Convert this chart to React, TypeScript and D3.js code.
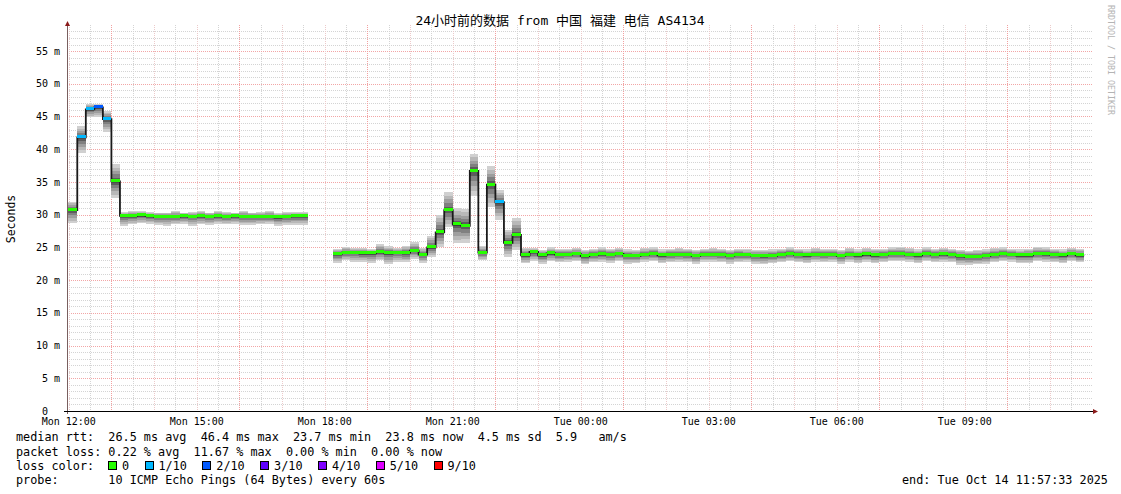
import React from 'react'
import * as d3 from 'd3'

// time window of the graph (local time)
const START = new Date(2025, 9, 13, 11, 57, 33)
const END = new Date(2025, 9, 14, 11, 57, 33)
const FIRST_BIN = new Date(2025, 9, 13, 11, 48, 0)
const BIN_MINUTES = 12

// median rtt per 12 min bin (ms), null = no data
const medians: (number | null)[] = [
  30.7, 30.7, 41.8, 46.1, 46.4, 44.6, 35.1,
  29.8, 29.8, 29.9, 29.8, 29.7, 29.7, 29.7, 29.8, 29.7, 29.8, 29.7,
  29.8, 29.7, 29.8, 29.7, 29.7, 29.7, 29.7, 29.6, 29.7, 29.8, 29.8,
  null, null, null,
  24.0, 24.2, 24.2, 24.1, 24.1, 24.3, 24.1, 24.2, 24.2, 24.5, 23.9,
  25.0, 27.3, 30.7, 28.5, 28.3, 36.7, 24.2, 34.6, 31.9, 25.7, 26.9, 23.8,
  24.3, 23.8, 24.1, 23.9, 23.9, 24.0, 23.65, 23.9, 24.0, 23.9, 24.0,
  23.75, 23.7, 23.9, 24.0, 23.8, 23.9, 23.9, 23.85, 23.7, 23.9, 23.9,
  23.9, 23.75, 23.85, 23.85, 23.7, 23.65, 23.7, 23.85, 24.05, 23.85, 23.8,
  23.9, 23.85, 23.9, 23.7, 23.9, 23.8, 23.95, 23.8, 23.9, 24.0, 24.0,
  23.9, 23.8, 24.0, 23.9, 24.0, 23.9, 23.7, 23.6, 23.6, 23.7, 23.9,
  24.0, 23.9, 23.8, 23.8, 24.0, 24.0, 23.9, 23.8, 24.0, 23.8,
]

// slowest ping per bin (top of the smoke)
const highs: (number | null)[] = [
  32.0, 32.0, 43.5, 46.9, 46.9, 45.8, 37.7,
  30.4, 30.5, 30.6, 30.4, 30.3, 30.3, 30.5, 30.3, 30.4, 30.5, 30.3,
  30.5, 30.4, 30.3, 30.5, 30.3, 30.4, 30.5, 30.3, 30.4, 30.4, 30.4,
  null, null, null,
  24.7, 25.0, 24.9, 24.9, 24.8, 25.5, 25.2, 24.9, 25.2, 25.8, 24.9,
  26.8, 30.0, 33.4, 31.0, 30.9, 39.3, 25.2, 37.4, 33.7, 27.7, 29.5, 24.9,
  24.9, 24.6, 25.0, 24.8, 24.7, 24.9, 24.6, 24.8, 25.0, 24.8, 24.9,
  24.7, 24.6, 24.9, 25.0, 24.7, 24.8, 24.9, 24.8, 24.6, 24.8, 24.9,
  24.8, 24.6, 24.8, 24.7, 24.6, 24.6, 24.7, 24.8, 25.0, 24.8, 24.7,
  24.9, 24.8, 24.8, 24.6, 24.9, 24.7, 24.9, 24.8, 24.8, 25.0, 25.1,
  24.9, 24.7, 25.0, 24.8, 24.9, 24.8, 24.6, 24.5, 24.6, 24.7, 24.9,
  25.0, 24.8, 24.7, 24.8, 25.1, 25.0, 24.8, 24.7, 24.9, 24.8,
]

// fastest ping per bin (bottom of the smoke)
const lows: (number | null)[] = [
  28.7, 28.7, 39.4, 44.9, 44.9, 42.7, 32.5,
  28.2, 28.5, 28.7, 28.6, 28.4, 28.3, 28.5, 28.6, 28.3, 28.5, 28.4,
  28.6, 28.5, 28.6, 28.4, 28.4, 28.5, 28.6, 28.3, 28.4, 28.4, 28.4,
  null, null, null,
  22.6, 23.0, 22.8, 22.8, 22.6, 23.0, 22.5, 22.8, 22.7, 23.3, 22.6,
  23.6, 25.0, 28.1, 25.6, 25.7, 32.8, 23.0, 31.1, 29.2, 23.5, 24.6, 22.6,
  22.9, 22.5, 22.9, 22.7, 22.8, 22.9, 22.4, 22.7, 22.8, 22.6, 22.9,
  22.5, 22.6, 22.8, 22.9, 22.6, 22.7, 22.8, 22.7, 22.5, 22.8, 22.8,
  22.7, 22.5, 22.7, 22.8, 22.5, 22.4, 22.6, 22.7, 22.9, 22.7, 22.6,
  22.8, 22.7, 22.8, 22.5, 22.8, 22.6, 22.8, 22.6, 22.7, 22.9, 22.9,
  22.8, 22.6, 22.9, 22.7, 22.8, 22.7, 22.3, 22.3, 22.4, 22.5, 22.7,
  22.9, 22.8, 22.6, 22.6, 22.9, 22.8, 22.7, 22.6, 22.9, 22.7,
]

// lost pings (out of 10) per bin
const lossCounts: number[] = [
  0, 0, 1, 1, 2, 1, 0,
  0, 0, 0, 0, 0, 0, 0, 0, 0, 0, 0, 0, 0, 0, 0, 0, 0, 0, 0, 0, 0, 0,
  0, 0, 0,
  0, 0, 0, 0, 0, 0, 0, 0, 0, 0, 0,
  0, 0, 0, 0, 0, 0, 0, 0, 1, 0, 0, 0,
  0, 0, 0, 0, 0, 0, 0, 0, 0, 0, 0, 0, 0, 0, 0, 0, 0, 0, 0, 0, 0, 0,
  0, 0, 0, 0, 0, 0, 0, 0, 0, 0, 0, 0, 0, 0, 0, 0, 0, 0, 0, 0, 0, 0,
  0, 0, 0, 0, 0, 0, 0, 0, 0, 0, 0, 0, 0, 0, 0, 0, 0, 0, 0, 0, 0,
]

const lossLabels = ['0', '1/10', '2/10', '3/10', '4/10', '5/10', '9/10']
const lossColors = ['#26ff00', '#00b8ff', '#0059ff', '#5e00ff', '#7e00ff', '#dd00ff', '#ff0000']
const yLabelValues = [0, 5, 10, 15, 20, 25, 30, 35, 40, 45, 50, 55]

const title = '24小时前的数据 from 中国 福建 电信 AS4134'
const statLines = [
  'median rtt:  26.5 ms avg  46.4 ms max  23.7 ms min  23.8 ms now  4.5 ms sd  5.9   am/s',
  'packet loss: 0.22 % avg  11.67 % max  0.00 % min  0.00 % now',
]
const probeLine = 'probe:       10 ICMP Echo Pings (64 Bytes) every 60s'
const endLine = 'end: Tue Oct 14 11:57:33 2025'

const smokeGrays = ['#d0d0d0', '#b8b8b8', '#9e9e9e', '#808080', '#5c5c5c']
const MONO = '"DejaVu Sans Mono", "Noto Sans CJK SC", monospace'

const W = 1121
const H = 494
const left = 67
const right = 1093
const top = 25
const bottom = 411

const App = () => {
  const x = d3.scaleTime().domain([START, END]).range([left, right - 2])
  const y = d3.scaleLinear().domain([0, 58.98]).range([bottom, top])

  const bins = medians.map((m, i) => {
    const t0 = d3.timeMinute.offset(FIRST_BIN, i * BIN_MINUTES)
    const t1 = d3.timeMinute.offset(t0, BIN_MINUTES)
    return {
      x0: Math.max(left, x(t0)),
      x1: x(t1),
      med: m,
      hi: highs[i],
      lo: lows[i],
      loss: lossCounts[i] ?? 0,
    }
  })

  const pts: [number, number | null][] = []
  bins.forEach((b) => {
    pts.push([b.x0, b.med])
    pts.push([b.x1, b.med])
  })
  const medLine = d3
    .line<[number, number | null]>()
    .defined((d) => d[1] !== null)
    .x((d) => d[0])
    .y((d) => y(d[1] as number))

  const halfHours = x.ticks(d3.timeMinute.every(30)!).filter((t) => t.getMinutes() !== 0)
  const hours = x.ticks(d3.timeHour.every(1)!)
  const labelTicks = x.ticks(d3.timeHour.every(3)!)
  const fmt = d3.timeFormat('%a %H:%M')

  const minorY = d3.range(1, 59).filter((v) => v % 5 !== 0)
  const majorY = d3.range(5, 59, 5)

  const lossColorFor = (n: number) => {
    if (n === 0) return lossColors[0]
    if (n <= 4) return lossColors[n]
    if (n <= 8) return lossColors[5]
    return lossColors[6]
  }

  const pre = { whiteSpace: 'pre' as const }
  const gx = (t: Date) => Math.round(x(t)) + 0.5
  const gy = (v: number) => Math.round(y(v)) + 0.5

  return (
    <svg width={W} height={H} style={{ position: 'absolute', left: 0, top: 0, background: '#fff' }}>
      <rect width={W} height={H} fill="#fff" />
      {/* grid */}
      <g shapeRendering="crispEdges" strokeDasharray="1,1">
        {minorY.map((v) => (
          <line key={'my' + v} x1={left} x2={right} y1={gy(v)} y2={gy(v)} stroke="#d4d4d4" />
        ))}
        {halfHours.map((t, i) => (
          <line key={'mx' + i} x1={gx(t)} x2={gx(t)} y1={top} y2={bottom} stroke="#d4d4d4" />
        ))}
        {majorY.map((v) => (
          <line key={'My' + v} x1={left} x2={right} y1={gy(v)} y2={gy(v)} stroke="#f2a6a6" />
        ))}
        {hours.map((t, i) => (
          <line
            key={'Mx' + i}
            x1={gx(t)}
            x2={gx(t)}
            y1={top}
            y2={bottom}
            stroke={t.getHours() % 3 === 1 ? '#f2a0a0' : '#eccaca'}
          />
        ))}
      </g>

      {/* smoke */}
      <g shapeRendering="crispEdges">
        {bins.map((b, i) =>
          b.med === null || b.hi === null || b.lo === null
            ? null
            : smokeGrays.map((c, j) => {
                const hiV = (b.hi as number) - (((b.hi as number) - (b.med as number)) * j) / smokeGrays.length
                const loV = (b.lo as number) + (((b.med as number) - (b.lo as number)) * j) / smokeGrays.length
                return (
                  <rect key={i + '-' + j} x={b.x0} width={b.x1 - b.x0} y={y(hiV)} height={y(loV) - y(hiV)} fill={c} />
                )
              })
        )}
      </g>

      {/* median */}
      <path d={medLine(pts) ?? ''} fill="none" stroke="#1a1a1a" strokeWidth={1.8} />
      <g shapeRendering="crispEdges">
        {bins.map((b, i) =>
          b.med === null ? null : (
            <rect key={'m' + i} x={b.x0} width={b.x1 - b.x0} y={y(b.med) - 2} height={3} fill={lossColorFor(b.loss)} />
          )
        )}
      </g>

      {/* axes */}
      <line x1={left + 0.5} x2={left + 0.5} y1={bottom + 3} y2={top} stroke="#7a5f5f" shapeRendering="crispEdges" />
      <polygon points={`${left + 0.5},${top - 4} ${left - 2},${top + 1} ${left + 3},${top + 1}`} fill="#8b1a1a" />
      <line x1={left - 3} x2={right} y1={bottom + 0.5} y2={bottom + 0.5} stroke="#000" shapeRendering="crispEdges" />
      <polygon points={`${right + 5},${bottom + 0.5} ${right},${bottom - 2} ${right},${bottom + 3}`} fill="#8b1a1a" />

      {/* tick labels */}
      <g fontFamily={MONO} fontSize={10} fill="#000">
        {yLabelValues.map((v) => (
          <text key={'yl' + v} x={v === 0 ? 48 : 60} y={y(v) + 3.6} textAnchor="end" xmlSpace="preserve" style={pre}>
            {v === 0 ? '0' : v + ' m'}
          </text>
        ))}
        {labelTicks.map((t, i) => (
          <text key={'xl' + i} x={x(t)} y={425} textAnchor="middle" xmlSpace="preserve" style={pre}>
            {fmt(t)}
          </text>
        ))}
      </g>

      <text x={15} y={219} transform="rotate(-90 15 219)" textAnchor="middle" fontFamily={MONO} fontSize={11.5}>
        Seconds
      </text>

      <text x={560} y={25} textAnchor="middle" fontFamily={MONO} fontSize={13} xmlSpace="preserve" style={pre}>
        {title}
      </text>

      <text x={1108} y={5} transform="rotate(90 1108 5)" fontFamily={MONO} fontSize={8.3} fill="#b4b4b4" xmlSpace="preserve" style={pre}>
        RRDTOOL / TOBI OETIKER
      </text>

      {/* legend */}
      <g fontFamily={MONO} fontSize={11.8} fill="#000">
        {statLines.map((s, i) => (
          <text key={'s' + i} x={16} y={441 + i * 14.5} xmlSpace="preserve" style={pre}>
            {s}
          </text>
        ))}
        <text x={16} y={470} xmlSpace="preserve" style={pre}>
          loss color:
        </text>
        {lossLabels.map((l, i) => {
          const bx = i === 0 ? 108 : 144.5 + (i - 1) * 57.8
          return (
            <g key={'ll' + i}>
              <rect x={bx + 0.5} y={461.5} width={8} height={8} fill={lossColors[i]} stroke="#000" shapeRendering="crispEdges" />
              <text x={bx + 14} y={470} xmlSpace="preserve" style={pre}>
                {l}
              </text>
            </g>
          )
        })}
        <text x={16} y={484} xmlSpace="preserve" style={pre}>
          {probeLine}
        </text>
        <text x={902} y={484} xmlSpace="preserve" style={pre}>
          {endLine}
        </text>
      </g>
    </svg>
  )
}

export default App
